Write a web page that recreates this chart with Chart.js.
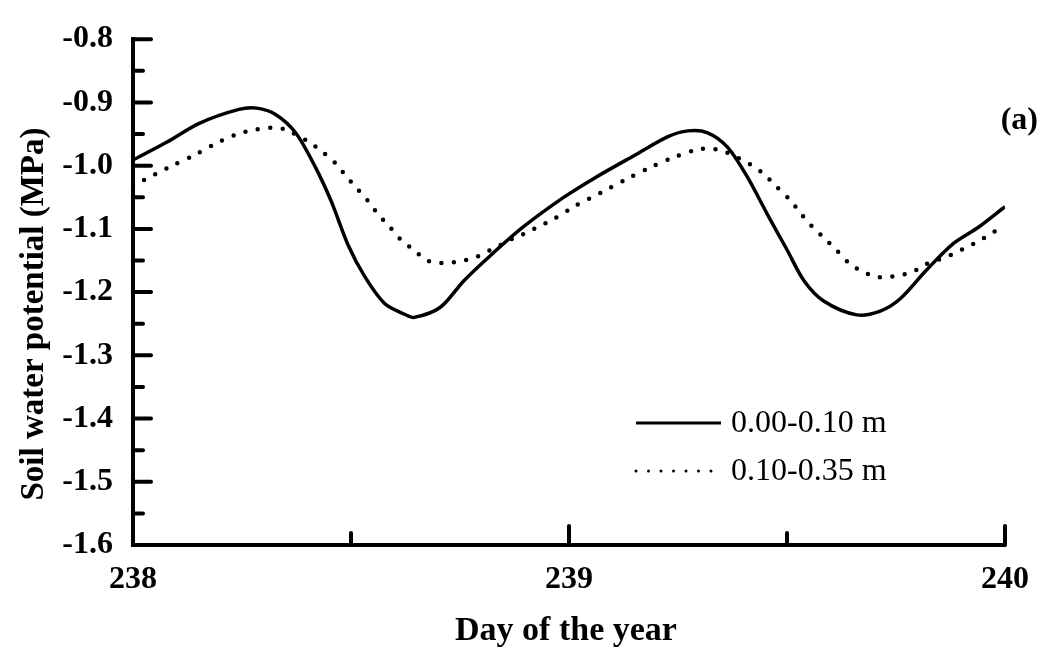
<!DOCTYPE html>
<html>
<head>
<meta charset="utf-8">
<title>Soil water potential</title>
<script src="https://cdn.jsdelivr.net/npm/chart.js@4.4.1/dist/chart.umd.min.js"></script>
<style>
  html, body { margin: 0; padding: 0; background: #fff; }
  #wrap { width: 1045px; height: 659px; }
</style>
</head>
<body>
<div id="wrap"><canvas id="myChart" width="1045" height="659"></canvas></div>
<script>
'use strict';

//========== Data ==========
let seriesLabels = ['0.00-0.10 m', '0.10-0.35 m'];

let shallowDays = [238.000, 238.077, 238.152, 238.243, 238.284, 238.327, 238.373, 238.418, 238.455, 238.493,
  238.532, 238.577, 238.623, 238.645, 238.705, 238.759, 238.820, 238.895, 238.986, 239.060,
  239.152, 239.227, 239.273, 239.318, 239.364, 239.410, 239.455, 239.500, 239.539, 239.584,
  239.660, 239.714, 239.759, 239.820, 239.880, 239.940, 240.000];
let shallowValues = [-0.991, -0.963, -0.933, -0.911, -0.909, -0.919, -0.948, -1.002, -1.057, -1.125,
  -1.176, -1.218, -1.235, -1.240, -1.224, -1.182, -1.142, -1.097, -1.051, -1.019,
  -0.983, -0.954, -0.945, -0.948, -0.971, -1.019, -1.077, -1.133, -1.182, -1.214,
  -1.236, -1.230, -1.211, -1.165, -1.124, -1.097, -1.065];

let deepDays = [238.000, 238.084, 238.145, 238.198, 238.259, 238.318, 238.350, 238.402, 238.432, 238.464,
  238.489, 238.511, 238.539, 238.561, 238.588, 238.614, 238.645, 238.675, 238.702, 238.732,
  238.759, 238.789, 238.818, 238.845, 238.875, 238.906, 238.936, 238.959, 239.016, 239.073,
  239.130, 239.186, 239.243, 239.300, 239.334, 239.361, 239.418, 239.448, 239.477, 239.509,
  239.532, 239.557, 239.589, 239.614, 239.645, 239.675, 239.705, 239.732, 239.761, 239.789,
  239.818, 239.850, 239.880, 239.909, 239.941, 239.966, 240.000];
let deepValues = [-1.032, -1.002, -0.982, -0.962, -0.946, -0.940, -0.943, -0.962, -0.977, -0.996,
  -1.017, -1.034, -1.056, -1.076, -1.096, -1.117, -1.134, -1.150, -1.154, -1.153,
  -1.150, -1.144, -1.134, -1.125, -1.114, -1.105, -1.094, -1.087, -1.063, -1.043,
  -1.022, -1.003, -0.986, -0.974, -0.974, -0.979, -0.999, -1.014, -1.034, -1.056,
  -1.076, -1.096, -1.117, -1.134, -1.156, -1.168, -1.176, -1.176, -1.173, -1.168,
  -1.156, -1.148, -1.140, -1.130, -1.119, -1.108, -1.096];

let xTickValues = [238, 239, 240];
let yTickValues = [-1.6, -1.5, -1.4, -1.3, -1.2, -1.1, -1.0, -0.9, -0.8];

//========== Helpers ==========
const SERIF = "'Liberation Serif', 'Times New Roman', serif";

function toPoints(xs, ys) {
  let pts = [];
  for (let i = 0; i < xs.length; i++) {
    pts.push({ x: xs[i], y: ys[i] });
  }
  return pts;
}

// inward tick marks, panel letter, axis titles and the legend box
const decorPlugin = {
  id: 'decor',
  afterDraw(chart) {
    let ctx = chart.ctx;
    let xs = chart.scales.x;
    let ys = chart.scales.y;
    let area = chart.chartArea;

    ctx.save();
    ctx.strokeStyle = '#000';
    ctx.lineWidth = 4;
    ctx.lineCap = 'round';

    // y ticks: major every 0.1, minor every 0.05
    for (let i = 1; i <= 16; i++) {
      let v = -1.6 + i * 0.05;
      let py = ys.getPixelForValue(v);
      let len = (i % 2 === 0) ? 18 : 10;
      ctx.beginPath();
      ctx.moveTo(area.left, py);
      ctx.lineTo(area.left + len, py);
      ctx.stroke();
    }

    // x ticks pointing up
    let xMarks = [238.5, 239, 239.5, 240];
    for (let i = 0; i < xMarks.length; i++) {
      let px = xs.getPixelForValue(xMarks[i]);
      let len = Number.isInteger(xMarks[i]) ? 19 : 12;
      ctx.beginPath();
      ctx.moveTo(px, area.bottom);
      ctx.lineTo(px, area.bottom - len);
      ctx.stroke();
    }

    ctx.fillStyle = '#000';

    // axis titles
    ctx.font = 'bold 34px ' + SERIF;
    ctx.textAlign = 'center';
    ctx.textBaseline = 'alphabetic';
    ctx.fillText('Day of the year', (area.left + area.right) / 2 - 3, 640);

    ctx.font = 'bold 33px ' + SERIF;
    ctx.save();
    ctx.translate(43, 314);
    ctx.rotate(-Math.PI / 2);
    ctx.fillText('Soil water potential (MPa)', 0, 0);
    ctx.restore();

    // panel letter
    ctx.font = 'bold 32px ' + SERIF;
    ctx.textAlign = 'right';
    ctx.textBaseline = 'middle';
    ctx.fillText('(a)', 1038, 121);

    // legend
    ctx.font = '32px ' + SERIF;
    ctx.textAlign = 'left';
    let rows = [423, 471];
    chart.data.datasets.forEach(function (ds, i) {
      let dotted = ds.borderDash.length > 0;
      ctx.save();
      ctx.lineWidth = 3;
      ctx.lineCap = dotted ? 'round' : 'butt';
      ctx.setLineDash(dotted ? [0, 12.5] : []);
      ctx.beginPath();
      ctx.moveTo(636, rows[i]);
      ctx.lineTo(dotted ? 712 : 721, rows[i]);
      ctx.stroke();
      ctx.restore();
      ctx.fillText(ds.label, 731, rows[i] + 1);
    });

    ctx.restore();
  }
};

//========== Chart ==========
let ctx = document.getElementById('myChart').getContext('2d');

let myChart = new Chart(ctx, {
  type: 'line',
  data: {
    datasets: [
      {
        label: seriesLabels[0],
        data: toPoints(shallowDays, shallowValues),
        borderColor: '#000',
        borderWidth: 3.5,
        borderDash: [],
        pointRadius: 0,
        tension: 0.3,
        fill: false
      },
      {
        label: seriesLabels[1],
        data: toPoints(deepDays, deepValues),
        borderColor: '#000',
        borderWidth: 4.5,
        borderDash: [0, 12.5],
        borderCapStyle: 'round',
        pointRadius: 0,
        tension: 0.3,
        fill: false
      }
    ]
  },
  options: {
    responsive: false,
    animation: false,
    layout: { padding: { left: 0, right: 32, top: 26, bottom: 0 } },
    plugins: {
      legend: { display: false },
      tooltip: { enabled: false }
    },
    scales: {
      x: {
        type: 'linear',
        min: 238,
        max: 240,
        afterBuildTicks: function (scale) {
          scale.ticks = xTickValues.map(function (v) { return { value: v }; });
        },
        afterFit: function (scale) { scale.height = 114; },
        grid: { display: true, drawOnChartArea: false, drawTicks: false },
        border: { display: true, color: '#000', width: 4 },
        ticks: {
          color: '#000',
          padding: 16,
          maxRotation: 0,
          autoSkip: false,
          font: { family: SERIF, size: 32, weight: 'bold' },
          callback: function (v) { return String(v); }
        }
      },
      y: {
        type: 'linear',
        min: -1.6,
        max: -0.8,
        afterBuildTicks: function (scale) {
          scale.ticks = yTickValues.map(function (v) { return { value: v }; });
        },
        afterFit: function (scale) { scale.width = 133; },
        grid: { display: true, drawOnChartArea: false, drawTicks: false },
        border: { display: true, color: '#000', width: 4 },
        ticks: {
          color: '#000',
          padding: 20,
          autoSkip: false,
          font: { family: SERIF, size: 32, weight: 'bold' },
          callback: function (v) { return Number(v).toFixed(1); }
        }
      }
    }
  },
  plugins: [decorPlugin]
});
</script>
</body>
</html>
